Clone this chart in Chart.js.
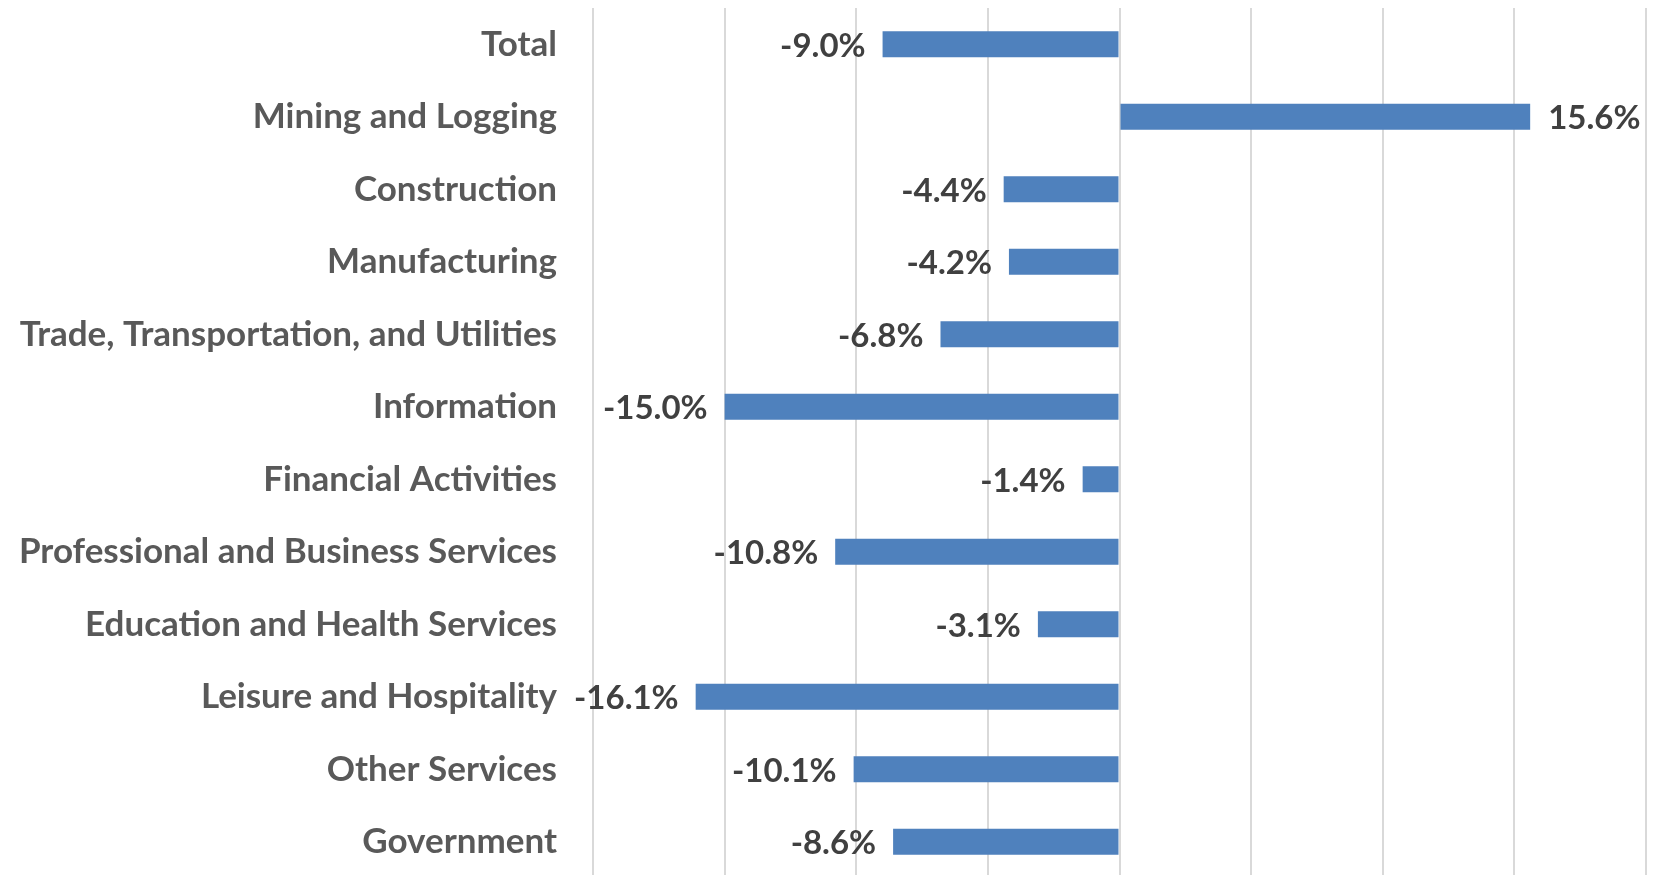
<!DOCTYPE html>
<html>
<head>
<meta charset="utf-8">
<script src="https://cdn.jsdelivr.net/npm/chart.js@4.4.0/dist/chart.umd.min.js"></script>
<style>
  html, body { margin: 0; padding: 0; background: #fff; overflow: hidden; }
  #wrap { width: 1653px; height: 878px; position: relative; }
</style>
</head>
<body>
<div id="wrap"><canvas id="myChart"></canvas></div>
<script>
// Industrias y variacion porcentual
const categories = [
  'Total',
  'Mining and Logging',
  'Construction',
  'Manufacturing',
  'Trade, Transportation, and Utilities',
  'Information',
  'Financial Activities',
  'Professional and Business Services',
  'Education and Health Services',
  'Leisure and Hospitality',
  'Other Services',
  'Government'
];
const changeValues = [-9.0, 15.6, -4.4, -4.2, -6.8, -15.0, -1.4, -10.8, -3.1, -16.1, -10.1, -8.6];
const axisMin = -20;
const axisMax = 20;
const axisStep = 5;

// etiquetas de datos al lado de cada barra
const barLabels = {
  id: 'barLabels',
  afterDatasetsDraw(chart) {
    const ctx = chart.ctx;
    const meta = chart.getDatasetMeta(0);
    ctx.save();
    ctx.font = 'bold 33px Lato';
    ctx.fillStyle = '#404040';
    ctx.textBaseline = 'middle';
    meta.data.forEach((bar, i) => {
      const v = changeValues[i];
      const txt = v.toFixed(1) + '%';
      if (v < 0) {
        ctx.textAlign = 'right';
        ctx.fillText(txt, Math.min(bar.x, bar.base) - 17, bar.y + 2);
      } else {
        ctx.textAlign = 'left';
        ctx.fillText(txt, Math.max(bar.x, bar.base) + 18, bar.y + 2);
      }
    });
    ctx.restore();
  }
};

new Chart('myChart', {
  type: 'bar',
  data: {
    labels: categories,
    datasets: [{
      data: changeValues,
      backgroundColor: '#4F81BD',
      borderWidth: 0,
      barPercentage: 0.36,
      categoryPercentage: 1.0
    }]
  },
  options: {
    indexAxis: 'y',
    responsive: true,
    maintainAspectRatio: false,
    animation: false,
    layout: { padding: { top: 8, right: 7, left: 0, bottom: 0 } },
    plugins: {
      legend: { display: false },
      tooltip: { enabled: false }
    },
    scales: {
      x: {
        min: axisMin,
        max: axisMax,
        ticks: { display: false, stepSize: axisStep },
        grid: { color: '#D9D9D9', lineWidth: 2, drawTicks: false },
        border: { display: false },
        afterFit(scale) {
          scale.height = 0;
          scale.paddingLeft = 0;
          scale.paddingRight = 0;
        }
      },
      y: {
        afterFit(scale) {
          scale.width = 593;
          scale.paddingTop = 0;
          scale.paddingBottom = 0;
        },
        ticks: {
          padding: 36,
          color: '#595959',
          font: { family: 'Lato', size: 35, weight: 'bold' }
        },
        grid: { display: false, drawTicks: false },
        border: { display: false }
      }
    }
  },
  plugins: [barLabels]
});
</script>
</body>
</html>
